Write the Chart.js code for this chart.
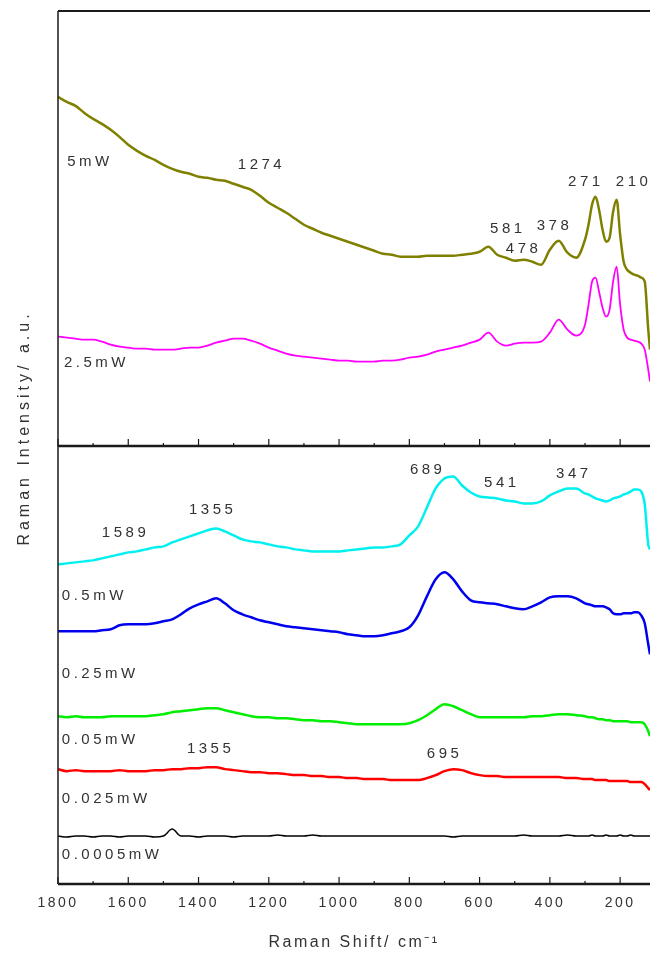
<!DOCTYPE html>
<html>
<head>
<meta charset="utf-8">
<script src="https://cdn.jsdelivr.net/npm/chart.js@4.4.1/dist/chart.umd.min.js"></script>
<style>
  html, body { margin: 0; padding: 0; background: #fff; }
  #wrap { position: relative; width: 650px; height: 959px; overflow: hidden; }
</style>
</head>
<body>
<div id="wrap"><canvas id="raman"></canvas></div>
<script>
// Raman shift grid (cm-1), shared by every spectrum
const ramanShift = [
  1800, 1775, 1750, 1725, 1700, 1675, 1650, 1625, 1600, 1575,
  1550, 1525, 1500, 1475, 1450, 1425, 1400, 1375, 1350, 1325,
  1300, 1275, 1250, 1225, 1200, 1175, 1150, 1125, 1100, 1075,
  1050, 1025, 1000, 975, 950, 925, 900, 875, 850, 825,
  800, 775, 750, 725, 700, 675, 650, 625, 600, 575,
  550, 525, 500, 475, 450, 425, 400, 375, 350, 325,
  300,
  290, 280, 270, 260, 250, 240, 230, 220, 210, 200,
  190, 180, 170, 160, 150, 140, 130, 120, 115
];

// intensities (a.u., spectra already offset as stacked in the figure)
const p5mW = [
  788, 783, 779, 772, 766, 761, 755, 748, 740, 734,
  729, 725, 720, 716, 713, 711, 708, 707, 705, 704,
  701, 698, 695, 689, 682, 677, 672, 666, 660, 656,
  652, 649, 646, 643, 640, 637, 634, 631, 630, 628,
  628, 628, 629, 629, 629, 629, 630, 631, 633, 638,
  630, 627, 624, 625, 623, 620, 635, 644, 632, 627,
  645,
  660, 680, 688, 675, 655, 643, 647, 673, 685, 650,
  623, 615, 612, 610, 609, 607, 603, 555, 535
];
const p2_5mW = [
  548, 547, 546, 545, 545, 543, 540, 538, 537, 536,
  536, 535, 535, 535, 536, 537, 537, 539, 542, 544,
  546, 546, 544, 541, 537, 534, 531, 529, 528, 527,
  526, 525, 524, 524, 523, 523, 523, 524, 524, 525,
  527, 528, 530, 533, 535, 537, 539, 542, 545, 552,
  543, 539, 541, 542, 542, 543, 552, 565, 555, 549,
  560,
  580, 603, 607, 593, 577, 568, 575, 603, 618, 580,
  555, 547, 545, 544, 543, 541, 535, 515, 503
];
const p0_5mW = [
  320, 321, 322, 323, 324, 326, 328, 330, 332, 333,
  335, 337, 338, 342, 345, 348, 351, 354, 356, 353,
  349, 345, 343, 342, 340, 338, 337, 335, 334, 333,
  333, 333, 333, 334, 335, 336, 337, 337, 338, 340,
  349, 358, 377, 396, 406, 408, 399, 392, 388, 387,
  386, 384, 383, 381, 381, 383, 389, 393, 396, 396,
  391,
  390, 388, 386, 385, 384, 383, 384, 386, 387, 388,
  390, 391, 393, 395, 395, 393, 380, 340, 335
];
const p0_25mW = [
  253, 253, 253, 253, 253, 254, 255, 259, 260, 260,
  260, 261, 263, 265, 270, 276, 280, 283, 286, 281,
  274, 270, 267, 264, 262, 260, 258, 257, 256, 255,
  254, 253, 252, 250, 249, 248, 248, 249, 251, 253,
  257, 269, 288, 305, 312, 305, 293, 284, 282, 281,
  280, 278, 276, 275, 278, 282, 287, 288, 288, 286,
  281,
  280, 279, 278, 278, 278, 277, 275, 271, 270, 270,
  271, 271, 271, 272, 272, 269, 261, 240, 230
];
const p0_05mW = [
  168, 167, 168, 167, 167, 167, 168, 168, 168, 168,
  168, 169, 170, 172, 173, 174, 175, 176, 176, 174,
  172, 170, 168, 167, 167, 166, 166, 165, 164, 164,
  163, 163, 162, 161, 160, 160, 160, 160, 160, 160,
  161, 164, 169, 175, 180, 178, 174, 170, 167, 167,
  167, 167, 167, 167, 168, 168, 169, 170, 170, 169,
  168,
  167, 167, 166, 165, 165, 164, 164, 163, 163, 163,
  163, 163, 162, 162, 162, 162, 160, 153, 148
];
const p0_025mW = [
  115, 113, 114, 113, 113, 113, 113, 114, 113, 113,
  113, 114, 114, 115, 115, 116, 116, 117, 117, 115,
  114, 113, 112, 112, 111, 111, 110, 109, 109, 108,
  108, 107, 107, 106, 106, 105, 105, 105, 104, 104,
  104, 104, 106, 109, 113, 115, 114, 111, 109, 108,
  108, 107, 107, 107, 107, 107, 107, 107, 106, 106,
  105,
  105, 105, 104, 104, 104, 104, 103, 103, 103, 103,
  103, 103, 102, 102, 102, 102, 100, 96, 94
];
const p0_0005mW = [
  48, 47, 48, 48, 47, 48, 48, 47, 48, 48,
  48, 47, 48, 55, 48, 48, 47, 48, 48, 48,
  47, 48, 48, 48, 48, 49, 48, 48, 48, 49,
  48, 48, 48, 48, 48, 48, 48, 48, 48, 48,
  48, 48, 48, 48, 48, 47, 48, 48, 48, 48,
  48, 48, 48, 49, 48, 48, 48, 48, 49, 48,
  48,
  48, 49, 48, 48, 48, 49, 48, 48, 48, 49,
  48, 48, 49, 48, 48, 48, 48, 48, 48
];

const majorTicks = [1800, 1600, 1400, 1200, 1000, 800, 600, 400, 200];
const minorTicks = [1700, 1500, 1300, 1100, 900, 700, 500, 300];
const panelSplit = 438.5;   // intensity level where the upper panel begins

// series names, placed at the left of each trace
const powerLabels = [
  { text: '5mW', x: 1774, y: 723 },
  { text: '2.5mW', x: 1783, y: 522 },
  { text: '0.5mW', x: 1789, y: 288 },
  { text: '0.25mW', x: 1789, y: 210 },
  { text: '0.05mW', x: 1789, y: 144 },
  { text: '0.025mW', x: 1789, y: 85 },
  { text: '0.0005mW', x: 1789, y: 29 },
];
// band positions written above the peaks
const peakLabels = [
  { text: '1274', x: 1225, y: 720 },
  { text: '581', x: 524, y: 656 },
  { text: '478', x: 479, y: 636 },
  { text: '378', x: 391, y: 659 },
  { text: '271', x: 302, y: 703 },
  { text: '210', x: 166, y: 703 },
  { text: '1589', x: 1612, y: 352 },
  { text: '1355', x: 1364, y: 375 },
  { text: '689', x: 752, y: 415 },
  { text: '541', x: 541, y: 402 },
  { text: '347', x: 336, y: 411 },
  { text: '1355', x: 1370, y: 135 },
  { text: '695', x: 704, y: 130 },
];

const FONT = '"Liberation Sans", Arial, sans-serif';
Chart.defaults.font.family = FONT;

const toPoints = vals => vals.map((v, i) => ({ x: ramanShift[i], y: v }));

function series(label, vals, color, width) {
  return {
    label,
    data: toPoints(vals),
    borderColor: color,
    borderWidth: width,
    pointRadius: 0,
    fill: false,
    cubicInterpolationMode: 'monotone',
  };
}

const framePlugin = {
  id: 'frame',
  beforeDraw(chart) {
    chart.ctx.letterSpacing = '2.5px';
  },
  afterDatasetsDraw(chart) {
    const { ctx, chartArea: a, scales: { x, y } } = chart;
    ctx.save();
    ctx.strokeStyle = '#1a1a1a';

    const line = (x1, y1, x2, y2) => {
      ctx.beginPath(); ctx.moveTo(x1, y1); ctx.lineTo(x2, y2); ctx.stroke();
    };

    ctx.lineWidth = 1.5;
    line(a.left, a.top, a.left, a.bottom);
    ctx.lineWidth = 2;
    line(a.left, a.top, a.right, a.top);

    [y.getPixelForValue(panelSplit), a.bottom].forEach(py => {
      ctx.lineWidth = 2.5;
      line(a.left, py, a.right, py);
      ctx.lineWidth = 1.2;
      majorTicks.forEach(v => { const px = x.getPixelForValue(v); line(px, py, px, py - 7); });
      minorTicks.forEach(v => { const px = x.getPixelForValue(v); line(px, py, px, py - 3); });
    });

    // labels
    ctx.fillStyle = '#333';
    ctx.font = '15px ' + FONT;
    ctx.letterSpacing = '3.5px';
    ctx.textBaseline = 'middle';
    ctx.textAlign = 'left';
    powerLabels.forEach(l => ctx.fillText(l.text, x.getPixelForValue(l.x), y.getPixelForValue(l.y)));
    ctx.textAlign = 'center';
    peakLabels.forEach(l => ctx.fillText(l.text, x.getPixelForValue(l.x) + 1.5, y.getPixelForValue(l.y)));

    // y axis title, spans both panels
    ctx.font = '16px ' + FONT;
    ctx.letterSpacing = '4px';
    ctx.translate(25, 428);
    ctx.rotate(-Math.PI / 2);
    ctx.fillText('Raman Intensity/ a.u.', 0, 0);
    ctx.restore();
  }
};

new Chart(document.getElementById('raman'), {
  type: 'line',
  data: {
    datasets: [
      series('5mW', p5mW, '#808000', 2.5),
      series('2.5mW', p2_5mW, '#ff00ff', 1.8),
      series('0.5mW', p0_5mW, '#00f0f0', 2.5),
      series('0.25mW', p0_25mW, '#0000ee', 2.5),
      series('0.05mW', p0_05mW, '#00ee00', 2.5),
      series('0.025mW', p0_025mW, '#ff0000', 2.5),
      series('0.0005mW', p0_0005mW, '#000000', 1.5),
    ],
  },
  options: {
    responsive: true,
    maintainAspectRatio: false,
    animation: false,
    devicePixelRatio: 1,
    layout: { padding: { left: 58, top: 11, right: 0, bottom: 0 } },
    plugins: { legend: { display: false }, tooltip: { enabled: false } },
    scales: {
      x: {
        type: 'linear',
        reverse: true,
        min: 115,
        max: 1800,
        afterBuildTicks: s => { s.ticks = majorTicks.map(v => ({ value: v })); },
        grid: { display: false, drawTicks: false },
        border: { display: false },
        ticks: {
          color: '#333', font: { size: 14 }, padding: 11,
          maxRotation: 0, autoSkip: false, callback: v => String(v),
        },
        title: {
          display: true,
          text: 'Raman Shift/ cm\u207B\u00B9',
          color: '#333',
          font: { size: 16 },
          padding: { top: 10, bottom: 7 },
        },
      },
      y: { min: 0, max: 874, display: false },
    },
  },
  plugins: [framePlugin],
});
</script>
</body>
</html>
